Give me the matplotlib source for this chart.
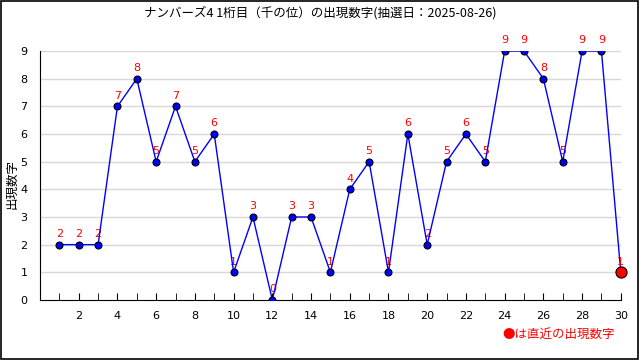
import matplotlib
matplotlib.use('Agg')
import matplotlib.pyplot as plt
from matplotlib.patches import Rectangle

plt.rcParams['font.family'] = ['Noto Sans CJK JP', 'DejaVu Sans']

draws = list(range(1, 31))
digits = [2, 2, 2, 7, 8, 5, 7, 5, 6, 1, 3, 0, 3, 3, 1, 4, 5, 1, 6, 2,
          5, 6, 5, 9, 9, 8, 5, 9, 9, 1]
title = 'ナンバーズ4 1桁目（千の位）の出現数字(抽選日：2025-08-26)'

fig = plt.figure(figsize=(6.4, 3.6), dpi=100)
ax = fig.add_axes([0.0625, 0.1667, 0.9075, 0.6916])

# 横のグリッド線
for v in range(1, 10):
    ax.axhline(v, color='#d8d8d8', lw=1, zorder=0)

ax.plot(draws[:-1], digits[:-1], color='blue', lw=1, marker='o', ms=5,
        mfc='blue', mec='black', mew=0.8, zorder=3)
ax.plot(draws[-2:], digits[-2:], color='blue', lw=1, zorder=2)
ax.plot(draws[-1], digits[-1], marker='o', ms=8, mfc='red', mec='black',
        mew=0.8, zorder=4, clip_on=False)

for x, y in zip(draws, digits):
    ax.annotate(str(y), (x, y), xytext=(0, 4), textcoords='offset points',
                ha='center', va='bottom', color='red', fontsize=8,
                family='DejaVu Sans', zorder=2)

ax.set_xlim(0, 30)
ax.set_ylim(0, 9)
ax.set_xticks(range(1, 31), minor=True)
ax.set_xticks(range(2, 31, 2))
ax.set_yticks(range(0, 10))
ax.tick_params(axis='x', which='both', direction='in', length=5, labelsize=8, pad=8)
ax.tick_params(axis='y', length=0, labelsize=8, pad=9)
for lab in ax.get_xticklabels() + ax.get_yticklabels():
    lab.set_family('DejaVu Sans')

for s in ['top', 'right']:
    ax.spines[s].set_visible(False)

fig.text(0.018, 0.49, '出現数字', rotation=90, ha='center', va='center', fontsize=9)
fig.text(0.5, 0.965, title, ha='center', va='center', fontsize=9)
fig.text(0.96, 0.07, '●は直近の出現数字', ha='right', va='center',
         color='red', fontsize=9)

fig.patches.append(Rectangle((0.002, 0.003), 0.995, 0.994, transform=fig.transFigure,
                             fill=False, ec='black', lw=1.2))

fig.savefig('out.png', dpi=100)
